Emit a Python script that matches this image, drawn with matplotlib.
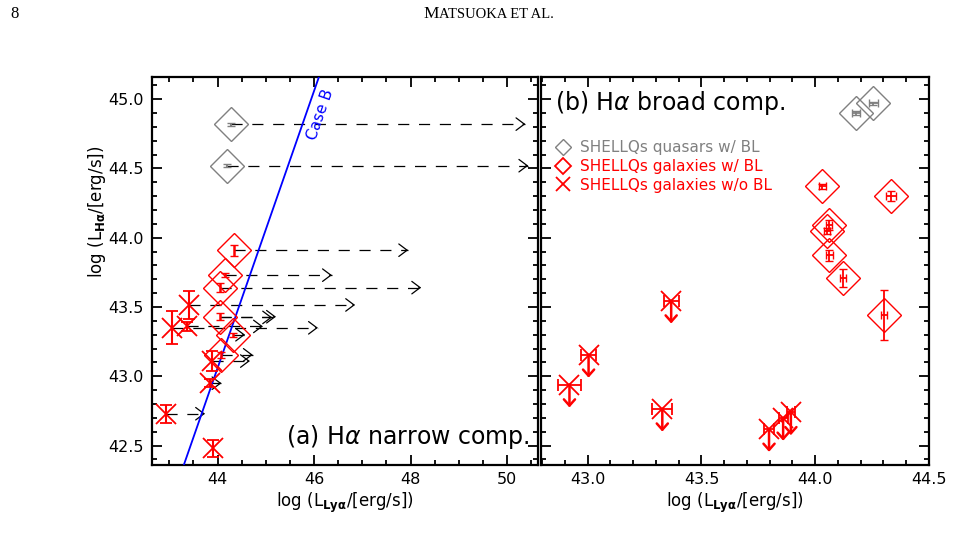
import matplotlib
matplotlib.use('Agg')
import matplotlib.pyplot as plt
from matplotlib.lines import Line2D
from matplotlib.ticker import MultipleLocator
import numpy as np

# ---- (a) narrow H-alpha component vs Lya ----
qso_lya_n = [44.27, 44.20]
qso_ha_n = [44.82, 44.52]
qso_ha_n_err = [0.01, 0.01]

galbl_lya_n = [44.34, 44.15, 44.05, 44.06, 44.32, 44.08]
galbl_ha_n = [43.91, 43.73, 43.64, 43.43, 43.30, 43.155]
galbl_ha_n_err = [0.04, 0.015, 0.03, 0.025, 0.015, 0.02]

galnobl_lya_n = [43.40, 43.05, 43.36, 43.88, 43.84, 42.94, 43.91]
galnobl_ha_n = [43.515, 43.35, 43.36, 43.11, 42.95, 42.73, 42.48]
galnobl_ha_n_err = [0.10, 0.12, 0.03, 0.07, 0.03, 0.065, 0.06]

# dashed arrows (corrected Lya)
arrow_ha = [44.82, 44.52, 43.91, 43.73, 43.64, 43.515, 43.43, 43.425,
            43.36, 43.35, 43.30, 43.155, 43.11, 42.95, 42.73]
arrow_lya_start = [44.27, 44.20, 44.34, 44.15, 44.05, 43.40, 44.06, 44.06,
                   43.36, 43.05, 44.32, 44.08, 43.88, 43.84, 42.94]
arrow_lya_end = [50.38, 50.44, 47.95, 46.37, 48.22, 46.85, 45.21, 45.13,
                 44.94, 46.08, 44.57, 44.73, 44.67, 44.08, 43.74]

# Case B line: log Lya = log Ha + 0.94
caseb_offset = 0.94

# ---- (b) broad H-alpha component vs Lya ----
qso_lya_b = [44.18, 44.256]
qso_ha_b = [44.90, 44.97]
qso_lya_b_err = [0.018, 0.018]
qso_ha_b_err = [0.012, 0.012]

galbl_lya_b = [44.031, 44.333, 44.062, 44.053, 44.062, 44.123, 44.303]
galbl_ha_b = [44.37, 44.30, 44.09, 44.05, 43.875, 43.71, 43.44]
galbl_lya_b_err = [0.015, 0.022, 0.013, 0.013, 0.016, 0.013, 0.012]
galbl_ha_b_err = [0.017, 0.036, 0.036, 0.022, 0.04, 0.068, 0.18]

galnobl_lya_b = [42.92, 43.004, 43.367, 43.328, 43.797, 43.859, 43.893]
galnobl_ha_b = [42.94, 43.155, 43.546, 42.766, 42.62, 42.70, 42.74]
galnobl_lya_b_err = [0.05, 0.033, 0.033, 0.044, 0.02, 0.02, 0.018]

legend_labels = ['SHELLQs quasars w/ BL', 'SHELLQs galaxies w/ BL', 'SHELLQs galaxies w/o BL']

RED = '#ff0000'
GRAY = '#808080'

plt.rcParams['font.family'] = 'DejaVu Sans'
plt.rcParams['lines.scale_dashes'] = False

fig = plt.figure(figsize=(9.54, 5.4), dpi=100)
axa = fig.add_axes([0.1593, 0.1389, 0.4046, 0.7185])
axb = fig.add_axes([0.5671, 0.1389, 0.4067, 0.7185])

ylim = (42.36, 45.16)


def style_axis(ax):
    ax.set_ylim(*ylim)
    ax.yaxis.set_major_locator(MultipleLocator(0.5))
    ax.yaxis.set_minor_locator(MultipleLocator(0.1))
    ax.tick_params(which='both', direction='in', top=True, right=True, width=1.3, labelsize=11.5, pad=5)
    ax.tick_params(which='major', length=7)
    ax.tick_params(which='minor', length=3.5)
    for s in ax.spines.values():
        s.set_linewidth(1.6)


# panel (a)
axa.set_xlim(42.64, 50.64)
style_axis(axa)
axa.xaxis.set_major_locator(MultipleLocator(2))
axa.xaxis.set_minor_locator(MultipleLocator(0.5))
axa.yaxis.set_major_formatter(matplotlib.ticker.FormatStrFormatter('%.1f'))
axa.tick_params(axis='y', pad=6)

for y, x0, x1 in zip(arrow_ha, arrow_lya_start, arrow_lya_end):
    axa.plot([x0, x1], [y, y], color='black', lw=0.9, dashes=(8, 7), zorder=2)
    axa.annotate('', xy=(x1, y), xytext=(x1 - 0.05, y),
                 arrowprops=dict(arrowstyle='->,head_length=0.6,head_width=0.45',
                                 color='black', lw=0.9, shrinkA=0, shrinkB=0))

cb_y = np.array(ylim)
axa.plot(cb_y + caseb_offset, cb_y, color='#0000ff', lw=1.3, zorder=3)
# angle of Case B line on screen
fig.canvas.draw()
p0 = axa.transData.transform((cb_y[0] + caseb_offset, cb_y[0]))
p1 = axa.transData.transform((cb_y[1] + caseb_offset, cb_y[1]))
ang = np.degrees(np.arctan2(p1[1] - p0[1], p1[0] - p0[0]))
axa.text(46.13, 44.89, 'Case B', color='#0000ff', fontsize=11, rotation=ang,
         ha='center', va='center', rotation_mode='anchor')

axa.errorbar(qso_lya_n, qso_ha_n, yerr=qso_ha_n_err, fmt='D', ms=17, mfc='none',
             mec=GRAY, mew=1.0, ecolor=GRAY, elinewidth=1.5, capsize=3, capthick=1.5, zorder=4)
axa.errorbar(galbl_lya_n, galbl_ha_n, yerr=galbl_ha_n_err, fmt='D', ms=17, mfc='none',
             mec=RED, mew=1.0, ecolor=RED, elinewidth=1.8, capsize=3, capthick=1.8, zorder=4)
axa.errorbar(galnobl_lya_n, galnobl_ha_n, yerr=galnobl_ha_n_err, fmt='x', ms=14,
             mec=RED, mew=1.3, ecolor=RED, elinewidth=1.5, capsize=4, capthick=1.5, zorder=4)

axa.text(0.979, 0.072, r'(a) H$\alpha$ narrow comp.', transform=axa.transAxes,
         ha='right', va='center', fontsize=17)
axa.set_xlabel(r'log (L$_{\mathbf{Ly\alpha}}$/[erg/s])', fontsize=12, labelpad=3)

# panel (b)
axb.set_xlim(42.795, 44.5)
style_axis(axb)
axb.xaxis.set_major_locator(MultipleLocator(0.5))
axb.xaxis.set_minor_locator(MultipleLocator(0.1))
axb.xaxis.set_major_formatter(matplotlib.ticker.FormatStrFormatter('%.1f'))
axb.tick_params(labelleft=False)

axb.errorbar(qso_lya_b, qso_ha_b, xerr=qso_lya_b_err, yerr=qso_ha_b_err, fmt='D', ms=17,
             mfc='none', mec=GRAY, mew=1.0, ecolor=GRAY, elinewidth=1.3, capsize=3,
             capthick=1.3, zorder=4)
axb.errorbar(galbl_lya_b, galbl_ha_b, xerr=galbl_lya_b_err, yerr=galbl_ha_b_err, fmt='D',
             ms=17, mfc='none', mec=RED, mew=1.0, ecolor=RED, elinewidth=1.3, capsize=3,
             capthick=1.3, zorder=4)
axb.errorbar(galnobl_lya_b, galnobl_ha_b, xerr=galnobl_lya_b_err, fmt='x', ms=14,
             mec=RED, mew=1.3, ecolor=RED, elinewidth=1.3, capsize=4, capthick=1.3, zorder=4)
for x, y in zip(galnobl_lya_b, galnobl_ha_b):
    axb.annotate('', xy=(x, y - 0.165), xytext=(x, y),
                 arrowprops=dict(arrowstyle='->,head_length=0.45,head_width=0.4',
                                 color=RED, lw=1.8, shrinkA=0, shrinkB=0))

axb.text(0.036, 0.933, r'(b) H$\alpha$ broad comp.', transform=axb.transAxes,
         ha='left', va='center', fontsize=17)
axb.set_xlabel(r'log (L$_{\mathbf{Ly\alpha}}$/[erg/s])', fontsize=12, labelpad=3)

handles = [Line2D([], [], ls='none', marker='D', ms=8, mfc='none', mec=GRAY, mew=1.0),
           Line2D([], [], ls='none', marker='D', ms=8, mfc='none', mec=RED, mew=1.3),
           Line2D([], [], ls='none', marker='x', ms=10, mec=RED, mew=1.3)]
axb.legend(handles, legend_labels, loc='upper left', bbox_to_anchor=(0.01, 0.865),
           frameon=False, fontsize=11, labelcolor=[GRAY, RED, RED],
           handlelength=1.0, handletextpad=0.6, labelspacing=0.25, borderaxespad=0.3)

fig.text(97 / 954, 1 - 212 / 540, r'log (L$_{\mathbf{H\alpha}}$/[erg/s])', rotation=90,
         ha='center', va='center', fontsize=12)

# page header
fig.text(10 / 954, 1 - 14 / 540, '8', family='Liberation Serif', fontsize=12, va='center')
fig.text(439 / 954, 1 - 14 / 540, 'M', family='Liberation Serif', fontsize=12.5,
         va='center', ha='right')
fig.text(439 / 954, 1 - 14 / 540, 'ATSUOKA ET AL.', family='Liberation Serif', fontsize=10.5,
         va='center', ha='left')

plt.savefig('out.png', dpi=100)
plt.close()
